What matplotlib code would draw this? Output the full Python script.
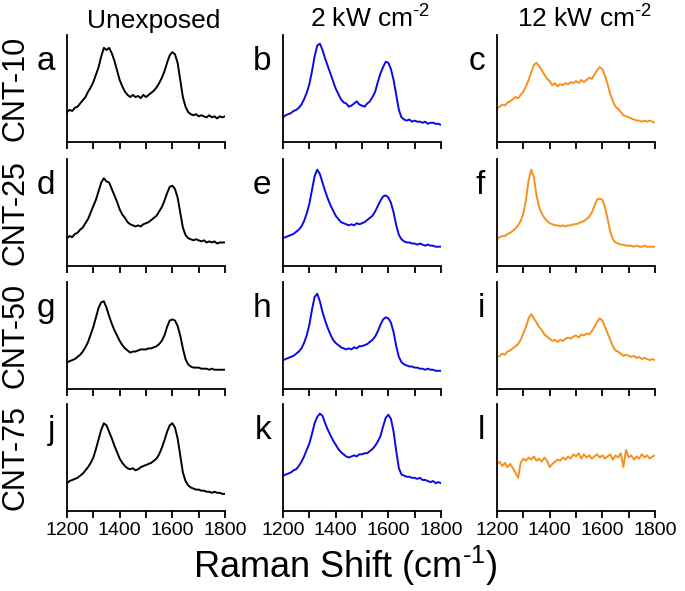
import numpy as np
import matplotlib
matplotlib.use("Agg")
import matplotlib.pyplot as plt

plt.rcParams['font.family'] = ['Liberation Sans', 'DejaVu Sans']
plt.rcParams['mathtext.fontset'] = 'custom'
plt.rcParams['mathtext.rm'] = 'Liberation Sans'
plt.rcParams['mathtext.it'] = 'Liberation Sans'

# Raman shift grid (cm-1), 10 cm-1 steps
shift = np.arange(1200, 1801, 10)

# normalised intensities (fraction of panel height)
a_int = [0.28, 0.30, 0.29, 0.32, 0.33, 0.36, 0.39, 0.42, 0.47, 0.51,
         0.56, 0.63, 0.70, 0.80, 0.88, 0.86, 0.88, 0.83, 0.76, 0.67,
         0.58, 0.52, 0.47, 0.44, 0.42, 0.44, 0.42, 0.43, 0.41, 0.44,
         0.42, 0.44, 0.46, 0.48, 0.51, 0.55, 0.60, 0.66, 0.74, 0.81,
         0.84, 0.82, 0.74, 0.58, 0.42, 0.33, 0.28, 0.26, 0.25, 0.26,
         0.24, 0.25, 0.24, 0.23, 0.25, 0.23, 0.24, 0.22, 0.24, 0.23,
         0.24]
b_int = [0.23, 0.25, 0.26, 0.27, 0.29, 0.30, 0.32, 0.35, 0.40, 0.46,
         0.54, 0.66, 0.80, 0.90, 0.92, 0.86, 0.78, 0.71, 0.64, 0.57,
         0.50, 0.45, 0.40, 0.37, 0.36, 0.33, 0.34, 0.36, 0.38, 0.35,
         0.34, 0.33, 0.36, 0.38, 0.42, 0.47, 0.56, 0.64, 0.70, 0.75,
         0.74, 0.68, 0.58, 0.44, 0.30, 0.23, 0.21, 0.20, 0.21, 0.19,
         0.20, 0.19, 0.19, 0.18, 0.19, 0.17, 0.18, 0.18, 0.17, 0.17,
         0.16]
c_int = [0.31, 0.33, 0.35, 0.34, 0.37, 0.38, 0.40, 0.42, 0.41, 0.44,
         0.47, 0.52, 0.58, 0.65, 0.72, 0.74, 0.71, 0.67, 0.63, 0.59,
         0.57, 0.53, 0.55, 0.52, 0.54, 0.53, 0.55, 0.54, 0.56, 0.55,
         0.57, 0.55, 0.58, 0.56, 0.58, 0.60, 0.59, 0.63, 0.67, 0.70,
         0.68, 0.62, 0.54, 0.45, 0.38, 0.33, 0.31, 0.28, 0.25, 0.24,
         0.23, 0.22, 0.21, 0.20, 0.20, 0.19, 0.20, 0.19, 0.20, 0.19,
         0.18]
d_int = [0.26, 0.28, 0.27, 0.30, 0.31, 0.34, 0.36, 0.40, 0.44, 0.50,
         0.56, 0.62, 0.70, 0.78, 0.82, 0.79, 0.78, 0.72, 0.66, 0.60,
         0.53, 0.48, 0.45, 0.41, 0.39, 0.38, 0.37, 0.38, 0.37, 0.39,
         0.40, 0.41, 0.43, 0.45, 0.47, 0.51, 0.55, 0.61, 0.68, 0.74,
         0.75, 0.72, 0.64, 0.50, 0.36, 0.29, 0.26, 0.25, 0.24, 0.25,
         0.24, 0.23, 0.24, 0.22, 0.23, 0.22, 0.23, 0.21, 0.22, 0.22,
         0.22]
e_int = [0.26, 0.27, 0.28, 0.29, 0.30, 0.32, 0.34, 0.37, 0.42, 0.49,
         0.58, 0.71, 0.84, 0.90, 0.86, 0.78, 0.70, 0.63, 0.57, 0.52,
         0.47, 0.44, 0.41, 0.40, 0.39, 0.38, 0.39, 0.38, 0.40, 0.39,
         0.40, 0.41, 0.43, 0.45, 0.47, 0.51, 0.56, 0.61, 0.65, 0.66,
         0.64, 0.59, 0.50, 0.38, 0.29, 0.25, 0.23, 0.22, 0.22, 0.21,
         0.21, 0.20, 0.21, 0.20, 0.19, 0.20, 0.19, 0.19, 0.18, 0.18,
         0.18]
f_int = [0.25, 0.27, 0.28, 0.28, 0.30, 0.31, 0.33, 0.35, 0.38, 0.42,
         0.49, 0.62, 0.80, 0.90, 0.83, 0.66, 0.55, 0.49, 0.45, 0.42,
         0.40, 0.39, 0.38, 0.38, 0.37, 0.38, 0.37, 0.38, 0.38, 0.39,
         0.39, 0.40, 0.41, 0.42, 0.44, 0.46, 0.50, 0.56, 0.62, 0.63,
         0.62, 0.55, 0.44, 0.32, 0.25, 0.22, 0.21, 0.20, 0.20, 0.19,
         0.19, 0.19, 0.18, 0.19, 0.18, 0.18, 0.19, 0.18, 0.18, 0.18,
         0.18]
g_int = [0.25, 0.26, 0.27, 0.28, 0.30, 0.32, 0.35, 0.39, 0.44, 0.51,
         0.58, 0.67, 0.76, 0.81, 0.82, 0.76, 0.68, 0.61, 0.55, 0.50,
         0.45, 0.41, 0.38, 0.36, 0.34, 0.35, 0.35, 0.36, 0.37, 0.37,
         0.37, 0.38, 0.38, 0.39, 0.40, 0.42, 0.45, 0.50, 0.58, 0.64,
         0.65, 0.64, 0.59, 0.50, 0.38, 0.28, 0.23, 0.21, 0.20, 0.20,
         0.20, 0.19, 0.19, 0.19, 0.18, 0.19, 0.18, 0.18, 0.18, 0.18,
         0.18]
h_int = [0.27, 0.28, 0.29, 0.30, 0.31, 0.33, 0.35, 0.38, 0.43, 0.50,
         0.60, 0.74, 0.86, 0.89, 0.82, 0.72, 0.64, 0.57, 0.51, 0.46,
         0.43, 0.41, 0.39, 0.38, 0.37, 0.38, 0.37, 0.39, 0.38, 0.40,
         0.40, 0.41, 0.42, 0.44, 0.46, 0.49, 0.54, 0.60, 0.65, 0.67,
         0.66, 0.62, 0.53, 0.40, 0.30, 0.25, 0.23, 0.22, 0.21, 0.21,
         0.20, 0.20, 0.19, 0.19, 0.18, 0.19, 0.18, 0.18, 0.17, 0.17,
         0.17]
i_int = [0.30, 0.31, 0.33, 0.32, 0.35, 0.36, 0.38, 0.40, 0.42, 0.46,
         0.52, 0.58, 0.66, 0.70, 0.66, 0.62, 0.58, 0.55, 0.51, 0.49,
         0.47, 0.45, 0.46, 0.44, 0.46, 0.45, 0.47, 0.48, 0.47, 0.49,
         0.50, 0.48, 0.51, 0.50, 0.52, 0.51, 0.54, 0.58, 0.63, 0.66,
         0.64, 0.58, 0.52, 0.46, 0.40, 0.36, 0.35, 0.33, 0.31, 0.32,
         0.31, 0.30, 0.31, 0.29, 0.30, 0.28, 0.29, 0.28, 0.27, 0.28,
         0.27]
j_int = [0.26, 0.28, 0.29, 0.30, 0.31, 0.33, 0.35, 0.38, 0.41, 0.45,
         0.50, 0.58, 0.67, 0.76, 0.82, 0.80, 0.74, 0.68, 0.61, 0.55,
         0.49, 0.45, 0.42, 0.40, 0.39, 0.40, 0.38, 0.39, 0.41, 0.42,
         0.43, 0.44, 0.45, 0.47, 0.49, 0.53, 0.59, 0.66, 0.74, 0.80,
         0.82, 0.78, 0.68, 0.52, 0.36, 0.28, 0.24, 0.22, 0.21, 0.20,
         0.20, 0.19, 0.19, 0.18, 0.18, 0.17, 0.18, 0.17, 0.17, 0.16,
         0.16]
k_int = [0.33, 0.34, 0.35, 0.36, 0.38, 0.39, 0.42, 0.46, 0.51, 0.57,
         0.63, 0.72, 0.82, 0.88, 0.91, 0.89, 0.82, 0.76, 0.71, 0.66,
         0.62, 0.58, 0.55, 0.53, 0.51, 0.50, 0.51, 0.52, 0.51, 0.53,
         0.53, 0.54, 0.54, 0.56, 0.58, 0.61, 0.65, 0.70, 0.79, 0.87,
         0.90, 0.86, 0.74, 0.56, 0.40, 0.34, 0.33, 0.32, 0.32, 0.31,
         0.31, 0.30, 0.31, 0.29, 0.29, 0.28, 0.27, 0.28, 0.26, 0.27,
         0.26]
l_int = [0.44, 0.46, 0.42, 0.45, 0.41, 0.44, 0.40, 0.36, 0.31, 0.45,
         0.49, 0.47, 0.50, 0.48, 0.51, 0.47, 0.49, 0.46, 0.50, 0.47,
         0.41, 0.44, 0.46, 0.48, 0.47, 0.50, 0.48, 0.51, 0.49, 0.53,
         0.51, 0.54, 0.49, 0.53, 0.50, 0.52, 0.49, 0.51, 0.53, 0.50,
         0.52, 0.49, 0.51, 0.53, 0.48, 0.52, 0.50, 0.54, 0.41, 0.57,
         0.50, 0.52, 0.48, 0.51, 0.49, 0.53, 0.50, 0.52, 0.49, 0.51,
         0.52]

spectra = [[a_int, b_int, c_int],
           [d_int, e_int, f_int],
           [g_int, h_int, i_int],
           [j_int, k_int, l_int]]
letters = [["a", "b", "c"], ["d", "e", "f"], ["g", "h", "i"], ["j", "k", "l"]]
samples = ["CNT-10", "CNT-25", "CNT-50", "CNT-75"]
conditions = ["Unexposed", r"2 kW cm$^{\text{-2}}$", r"12 kW cm$^{\text{-2}}$"]
colors = ["black", "#0a0ae6", "#f7901e"]

W, H = 685, 591
fig = plt.figure(figsize=(W / 100, H / 100), dpi=100)

col_left = [67, 283, 497]
ax_w = 158
row_top = [35, 159, 282, 404]
ax_h = 107

for r in range(4):
    for c in range(3):
        left = col_left[c] / W
        bottom = 1 - (row_top[r] + ax_h) / H
        ax = fig.add_axes([left, bottom, ax_w / W, ax_h / H])
        ax.plot(shift, spectra[r][c], color=colors[c], lw=1.4)
        ax.set_xlim(1200, 1800)
        ax.set_ylim(0, 1)
        ax.spines['top'].set_visible(False)
        ax.spines['right'].set_visible(False)
        ax.spines['left'].set_linewidth(1.3)
        ax.spines['bottom'].set_linewidth(1.3)
        ax.set_yticks([])
        ax.set_xticks(range(1200, 1801, 100))
        ax.tick_params(axis='x', direction='out', length=5, width=1.3, labelsize=14, pad=3)
        if r == 3:
            ax.set_xticklabels([str(v) if v % 200 == 0 else "" for v in range(1200, 1801, 100)])
        else:
            ax.set_xticklabels([])
        fig.text((col_left[c] - 12) / W, 1 - (row_top[r] + 35) / H, letters[r][c],
                 ha='right', va='baseline', fontsize=24)
    fig.text(16 / W, 1 - (row_top[r] + ax_h / 2) / H, samples[r], rotation=90,
             ha='center', va='center', fontsize=22)

for c in range(3):
    fig.text((col_left[c] + ax_w / 2 + 8) / W, 1 - 28 / H, conditions[c],
             ha='center', va='baseline', fontsize=19)

fig.text(345 / W, 1 - 566 / H, r"Raman Shift (cm$^{\text{-1}}$)", ha='center', va='center', fontsize=26)

fig.savefig("out.png", dpi=100)
